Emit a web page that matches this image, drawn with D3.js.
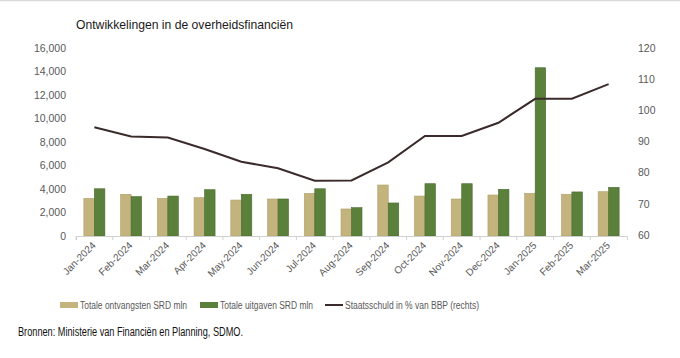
<!DOCTYPE html>
<html>
<head>
<meta charset="utf-8">
<script src="https://cdn.jsdelivr.net/npm/d3@7"></script>
<style>
  body { margin: 0; background: #fff; }
  svg { display: block; font-family: "Liberation Sans", Arial, sans-serif; }
</style>
</head>
<body>
<div id="chart"></div>
<script>
var months = ["Jan-2024","Feb-2024","Mar-2024","Apr-2024","May-2024","Jun-2024","Jul-2024","Aug-2024",
              "Sep-2024","Oct-2024","Nov-2024","Dec-2024","Jan-2025","Feb-2025","Mar-2025"];
var ontvangsten = [3200, 3550, 3200, 3260, 3060, 3150, 3630, 2300, 4340, 3400, 3150, 3490, 3630, 3550, 3770];
var uitgaven    = [4020, 3350, 3400, 3940, 3550, 3150, 4020, 2410, 2810, 4450, 4450, 3970, 14320, 3750, 4140];
var staatsschuld = [94.6, 91.6, 91.3, 87.6, 83.5, 81.4, 77.4, 77.5, 83.3, 91.8, 91.8, 96.0, 103.7, 103.7, 108.4];
var leftTicks = [0, 2000, 4000, 6000, 8000, 10000, 12000, 14000, 16000];
var rightTicks = [60, 70, 80, 90, 100, 110, 120];

var W = 680, H = 358;
var plot = {left: 76, right: 627, top: 48, bottom: 236};

var svg = d3.select("#chart").append("svg")
  .attr("width", W).attr("height", H);

svg.append("line")
  .attr("x1", 0).attr("x2", W).attr("y1", 0.5).attr("y2", 0.5)
  .style("stroke", "#d9d9d9").style("stroke-width", 1.5);

var x = d3.scaleBand().domain(months).range([plot.left, plot.right]);
var xi = d3.scaleBand().domain(["o", "u"]).range([0, 21]);
var yL = d3.scaleLinear().domain([0, 16000]).range([plot.bottom, plot.top]);
var yR = d3.scaleLinear().domain([60, 120]).range([plot.bottom - 1, plot.top]);

// left axis labels
svg.append("g").selectAll("text")
  .data(leftTicks).enter().append("text")
  .attr("x", 66).attr("y", function(d) { return yL(d); })
  .attr("dy", "0.35em")
  .attr("text-anchor", "end")
  .attr("fill", "#595959")
  .attr("font-size", "10.5px")
  .text(function(d) { return d3.format(",")(d); });

// right axis labels
svg.append("g").selectAll("text")
  .data(rightTicks).enter().append("text")
  .attr("x", 638).attr("y", function(d) { return yR(d); })
  .attr("dy", "0.35em")
  .attr("fill", "#595959")
  .attr("font-size", "10.5px")
  .text(function(d) { return d; });

// bars
var groups = svg.append("g").selectAll("g")
  .data(months).enter().append("g")
  .attr("transform", function(d) { return "translate(" + (x(d) + x.bandwidth() / 2 - 10.5) + ",0)"; });

groups.append("rect")
  .attr("x", xi("o"))
  .attr("y", function(d, i) { return yL(ontvangsten[i]); })
  .attr("width", xi.bandwidth())
  .attr("height", function(d, i) { return yL(0) - yL(ontvangsten[i]); })
  .attr("fill", "#c3b37d")
  .style("stroke", "#b0a06a").style("stroke-width", 0.6);

groups.append("rect")
  .attr("x", xi("u"))
  .attr("y", function(d, i) { return yL(uitgaven[i]); })
  .attr("width", xi.bandwidth())
  .attr("height", function(d, i) { return yL(0) - yL(uitgaven[i]); })
  .attr("fill", "#5b803b")
  .style("stroke", "#4a6a2e").style("stroke-width", 0.6);

// x axis
svg.append("g")
  .attr("transform", "translate(0," + plot.bottom + ")")
  .call(d3.axisBottom(x).tickSize(4).tickSizeOuter(4).tickFormat(""))
  .call(function(g) {
    g.select(".domain").attr("stroke", "#d0d0d0");
    g.selectAll(".tick line").attr("stroke", "#d0d0d0")
      .attr("transform", "translate(" + (-x.bandwidth() / 2) + ",0)");
  });

svg.append("g").selectAll("text")
  .data(months).enter().append("text")
  .attr("transform", function(d) { return "translate(" + (x(d) + x.bandwidth() / 2 + 2) + ",246) rotate(-45)"; })
  .attr("text-anchor", "end")
  .attr("fill", "#595959")
  .attr("font-size", "10px")
  .text(function(d) { return d; });

// debt line
var line = d3.line()
  .x(function(d, i) { return x(months[i]) + x.bandwidth() / 2; })
  .y(function(d) { return yR(d); });

svg.append("path")
  .datum(staatsschuld)
  .attr("d", line)
  .attr("fill", "none")
  .style("stroke", "#3a2a2a")
  .style("stroke-width", 2);

// title
svg.append("text")
  .attr("x", 76).attr("y", 29)
  .attr("fill", "#1a1a1a")
  .attr("font-size", "13px")
  .attr("textLength", 217).attr("lengthAdjust", "spacingAndGlyphs")
  .text("Ontwikkelingen in de overheidsfinanciën");

// legend
var legend = [
  {label: "Totale ontvangsten SRD mln", color: "#c3b37d", type: "rect", x: 60, w: 107},
  {label: "Totale uitgaven SRD mln", color: "#5b803b", type: "rect", x: 200, w: 93},
  {label: "Staatsschuld in % van BBP (rechts)", color: "#3a2a2a", type: "line", x: 325, w: 134}
];
var lg = svg.append("g").selectAll("g")
  .data(legend).enter().append("g")
  .attr("transform", function(d) { return "translate(" + d.x + ",305)"; });

lg.filter(function(d) { return d.type === "rect"; }).append("rect")
  .attr("x", 0).attr("y", -3).attr("width", 18).attr("height", 6)
  .attr("fill", function(d) { return d.color; });
lg.filter(function(d) { return d.type === "line"; }).append("line")
  .attr("x1", 0).attr("x2", 18).attr("y1", 0).attr("y2", 0)
  .style("stroke", function(d) { return d.color; }).style("stroke-width", 2);
lg.append("text")
  .attr("x", 20).attr("dy", "0.35em")
  .attr("fill", "#595959")
  .attr("font-size", "10px")
  .attr("textLength", function(d) { return d.w; })
  .attr("lengthAdjust", "spacingAndGlyphs")
  .text(function(d) { return d.label; });

// source
svg.append("text")
  .attr("x", 18).attr("y", 336)
  .attr("fill", "#111")
  .attr("font-size", "12px")
  .attr("textLength", 225).attr("lengthAdjust", "spacingAndGlyphs")
  .text("Bronnen: Ministerie van Financiën en Planning, SDMO.");
</script>
</body>
</html>
